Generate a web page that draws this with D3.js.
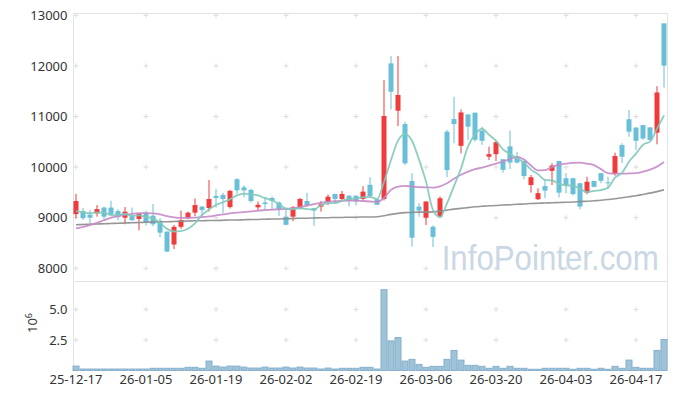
<!DOCTYPE html>
<html>
<head>
<meta charset="utf-8">
<script src="https://cdn.jsdelivr.net/npm/d3@7"></script>
<style>
  body { margin: 0; background: #fff; }
  text { font-family: "Noto Sans", "Open Sans", sans-serif; }
</style>
</head>
<body>
<div class="vis-candle"></div>
<script>
const dates = [
  "25-12-17","25-12-18","25-12-19","25-12-22","25-12-23","25-12-24","25-12-26","25-12-29","25-12-30","26-01-02",
  "26-01-05","26-01-06","26-01-07","26-01-08","26-01-09","26-01-12","26-01-13","26-01-14","26-01-15","26-01-16",
  "26-01-19","26-01-20","26-01-21","26-01-22","26-01-23","26-01-26","26-01-27","26-01-28","26-01-29","26-01-30",
  "26-02-02","26-02-03","26-02-04","26-02-05","26-02-06","26-02-09","26-02-10","26-02-11","26-02-12","26-02-13",
  "26-02-19","26-02-20","26-02-23","26-02-24","26-02-25","26-02-26","26-02-27","26-03-03","26-03-04","26-03-05",
  "26-03-06","26-03-09","26-03-10","26-03-11","26-03-12","26-03-13","26-03-16","26-03-17","26-03-18","26-03-19",
  "26-03-20","26-03-23","26-03-24","26-03-25","26-03-26","26-03-27","26-03-30","26-03-31","26-04-01","26-04-02",
  "26-04-03","26-04-06","26-04-07","26-04-08","26-04-09","26-04-10","26-04-13","26-04-14","26-04-15","26-04-16",
  "26-04-17","26-04-20","26-04-21","26-04-22","26-04-23"
];

const open = [
  9070,9130,9060,9085,9200,9200,9130,9000,9030,8975,
  9100,9040,8940,8725,8470,8820,8990,9100,9220,9190,
  9430,9450,9210,9760,9600,9550,9205,9300,9390,9300,
  9020,9020,9185,9330,9190,9220,9305,9470,9370,9435,
  9435,9370,9650,9365,9370,12050,11115,10850,9725,9220,
  9000,8820,9020,10700,10950,10420,11040,11075,10720,10205,
  10255,10155,10410,10210,10120,9645,9365,9625,9925,10120,
  9780,9780,9680,9495,9725,9880,9700,9865,10435,10945,
  10780,10830,10785,10680,12840
];
const high = [
  9470,9190,9150,9250,9220,9335,9170,9210,9200,9090,
  9140,9270,8990,8730,8860,9140,9120,9380,9225,9745,
  9570,9490,9550,9780,9640,9570,9320,9415,9420,9320,
  9200,9230,9390,9490,9195,9330,9460,9470,9530,9440,
  9440,9625,9800,9370,11720,12195,12195,10900,9880,9290,
  9320,8850,9420,10735,11390,11140,11050,11080,10800,10405,
  10530,10160,10720,10300,10125,9845,9580,9745,10075,10125,
  9880,9790,9690,9810,9730,9885,9810,10285,10470,11130,
  10790,10835,10790,11600,12840
];
const low = [
  8990,8955,8870,9020,8955,9040,8950,8870,8940,8750,
  8840,8830,8615,8320,8380,8780,8970,9030,9010,9120,
  9200,9090,9180,9470,9400,9300,9140,9150,9150,9030,
  8850,8930,9170,9220,8840,9120,9250,9270,9320,9220,
  9240,9350,9385,9250,9340,11140,10810,10040,8430,9020,
  8855,8420,8990,9800,10470,10270,10540,10500,10440,10140,
  10120,9890,9960,10075,9760,9495,9350,9385,9645,9400,
  9485,9440,9165,9460,9600,9680,9570,9830,10080,10600,
  10340,10540,10520,10450,11570
];
const close = [
  9330,8990,9000,9170,9020,9070,9010,9120,8950,9080,
  8910,8870,8705,8330,8820,8950,9100,9250,9150,9370,
  9390,9370,9530,9540,9540,9330,9255,9270,9330,9170,
  8860,9205,9370,9250,9140,9265,9415,9370,9470,9330,
  9320,9515,9430,9255,11010,11490,11425,10075,8605,9140,
  9320,8620,9385,9940,10850,11080,10800,10540,10520,10255,
  10490,9945,10090,10090,9825,9800,9485,9535,10030,9495,
  9645,9465,9220,9710,9610,9730,9680,10220,10205,10700,
  10520,10565,10535,11475,12005
];
// volume in millions of shares
const volume = [
  0.36,0.12,0.12,0.12,0.12,0.12,0.12,0.12,0.12,0.12,
  0.12,0.18,0.18,0.18,0.18,0.18,0.26,0.26,0.18,0.77,
  0.36,0.28,0.36,0.36,0.28,0.2,0.2,0.28,0.2,0.2,
  0.28,0.2,0.28,0.2,0.2,0.12,0.2,0.12,0.18,0.18,
  0.18,0.26,0.26,0.12,6.6,2.42,2.69,0.77,0.91,0.5,
  0.26,0.34,0.34,0.91,1.64,0.85,0.42,0.42,0.34,0.18,
  0.34,0.18,0.34,0.18,0.18,0.1,0.1,0.18,0.18,0.18,
  0.18,0.1,0.18,0.18,0.1,0.18,0.1,0.34,0.18,0.85,
  0.26,0.18,0.18,1.64,2.53
];
const ma5 = [
  9130,9110,9090,9100,9102,9050,9054,9078,9034,9046,
  9014,8986,8903,8779,8727,8735,8781,8890,9054,9164,
  9252,9306,9362,9440,9474,9462,9439,9387,9345,9271,
  9177,9167,9187,9171,9165,9246,9288,9288,9332,9370,
  9381,9401,9413,9370,9706,10140,10522,10651,10521,10147,
  9713,9152,9014,9281,9623,9975,10411,10642,10758,10639,
  10521,10350,10260,10174,10088,9950,9858,9747,9735,9669,
  9638,9634,9571,9507,9530,9547,9590,9790,9889,10107,
  10265,10442,10505,10759,11020
];
const ma20 = [
  8790,8820,8855,8900,8950,9000,9030,9055,9075,9090,
  9090,9085,9065,9030,9005,8995,8995,9000,9010,9025,
  9045,9065,9085,9100,9110,9125,9140,9150,9160,9165,
  9175,9190,9210,9240,9270,9295,9315,9325,9335,9340,
  9340,9330,9320,9310,9390,9550,9615,9630,9615,9605,
  9600,9595,9620,9680,9770,9850,9910,9960,9990,10030,
  10070,10110,10160,10200,10150,10030,9935,9940,10000,10050,
  10070,10085,10090,10070,10040,9960,9880,9870,9870,9875,
  9880,9910,9950,10010,10100
];
const ma60 = [
  8860,8865,8870,8875,8880,8885,8890,8895,8900,8905,
  8910,8915,8920,8920,8925,8930,8935,8940,8940,8945,
  8945,8950,8955,8955,8960,8965,8965,8970,8975,8975,
  8980,8985,8990,8990,8995,9000,9000,9005,9005,9010,
  9010,9015,9015,9020,9040,9065,9085,9100,9105,9110,
  9110,9115,9130,9150,9170,9185,9200,9215,9225,9235,
  9240,9250,9255,9265,9270,9280,9285,9290,9295,9300,
  9305,9310,9320,9325,9335,9345,9360,9375,9395,9415,
  9435,9460,9485,9515,9550
];
const priceTicks = [8000, 9000, 10000, 11000, 12000, 13000];
const volTicks = [2.5, 5.0];
const dateTicks = [0, 10, 20, 30, 40, 50, 60, 70, 80];

const width = 677, height = 399;
const plotLeft = 73.5, plotRight = 667.5, plotTop = 13.5, priceBottom = 281.5, volBottom = 370.5;

const svg = d3.select(".vis-candle").append("svg")
  .attr("width", width).attr("height", height);

const x = d3.scaleBand().domain(d3.range(dates.length)).range([72.5, 667.5]).padding(0);
const cx = i => x(i) + x.bandwidth() / 2;
const y = d3.scaleLinear().domain([8000, 13000]).range([268.3, 15.3]);
const yv = d3.scaleLinear().domain([0, 5]).range([370.5, 309.3]);

// grid crosses
const cross = (g, xs, ys) => {
  xs.forEach(px => ys.forEach(py => {
    g.append("line").attr("x1", px - 2.5).attr("x2", px + 2.5).attr("y1", py).attr("y2", py);
    g.append("line").attr("x1", px).attr("x2", px).attr("y1", py - 2.5).attr("y2", py + 2.5);
  }));
};
const grid = svg.append("g").attr("stroke", "#dcdcdc").attr("stroke-width", 1);
cross(grid, dateTicks.map(cx), priceTicks.map(y));
cross(grid, dateTicks.map(cx), volTicks.map(yv));

// watermark
svg.append("text")
  .attr("x", 441.7).attr("y", 270)
  .attr("textLength", 217).attr("lengthAdjust", "spacingAndGlyphs")
  .style("font-family", "'Liberation Sans', Arial, sans-serif")
  .style("font-size", "35px")
  .attr("fill", "#c9d8e4")
  .text("InfoPointer.com");

// frame
const frame = svg.append("g").attr("stroke", "#e3e3e3").attr("stroke-width", 1).attr("fill", "none");
frame.append("path").attr("d", `M${plotLeft},${volBottom}V${plotTop}H${plotRight}V${volBottom}`);
frame.append("line").attr("x1", plotLeft).attr("x2", plotRight).attr("y1", priceBottom).attr("y2", priceBottom);

// volume bars
svg.append("g").selectAll("rect").data(volume).join("rect")
  .attr("x", (d, i) => x(i) + 0.5)
  .attr("width", x.bandwidth() - 1)
  .attr("y", d => yv(d))
  .attr("height", d => yv(0) - yv(d))
  .attr("fill", "#9ec2d6")
  .attr("stroke", "#86b0cd")
  .attr("stroke-width", 1);

// candles
const upColor = "#ef3b3b", downColor = "#69bfd7";
const candles = svg.append("g").selectAll("g").data(dates).join("g")
  .attr("fill", (d, i) => close[i] >= open[i] ? upColor : downColor)
  .attr("stroke", (d, i) => close[i] >= open[i] ? upColor : downColor);
candles.append("line")
  .attr("x1", (d, i) => cx(i)).attr("x2", (d, i) => cx(i))
  .attr("y1", (d, i) => y(high[i])).attr("y2", (d, i) => y(low[i]))
  .attr("stroke-width", 1);
candles.append("rect")
  .attr("x", (d, i) => cx(i) - 2.5)
  .attr("width", 5)
  .attr("y", (d, i) => y(Math.max(open[i], close[i])))
  .attr("height", (d, i) => Math.max(1, Math.abs(y(open[i]) - y(close[i]))))
  .attr("stroke", "none");

// moving averages
const line = d3.line().x((d, i) => cx(i)).y(d => y(d)).curve(d3.curveMonotoneX);
[[ma60, "#8c8c8c", 1.6], [ma20, "#c78ac8", 1.8], [ma5, "#82c9ba", 1.8]].forEach(([s, c, w]) => {
  svg.append("path").datum(s)
    .attr("fill", "none").attr("stroke", c).attr("stroke-width", w)
    .attr("stroke-opacity", 0.9).attr("d", line);
});

// axes
const styleAxis = g => {
  g.select(".domain").remove();
  g.selectAll("text").attr("fill", "#333").style("font-size", "13px");
};
svg.append("g").attr("transform", `translate(${plotLeft},0)`)
  .call(d3.axisLeft(y).tickValues(priceTicks).tickSize(0).tickPadding(6).tickFormat(d3.format("d")))
  .call(styleAxis);
svg.append("g").attr("transform", `translate(${plotLeft},0)`)
  .call(d3.axisLeft(yv).tickValues(volTicks).tickSize(0).tickPadding(6).tickFormat(d3.format(".1f")))
  .call(styleAxis);
svg.append("g").attr("transform", `translate(0,${volBottom - 0.5})`)
  .call(d3.axisBottom(x).tickValues(dateTicks).tickSize(0).tickPadding(5).tickFormat(i => dates[i]))
  .call(styleAxis);

// volume unit label
const unit = svg.append("text")
  .attr("transform", "translate(37,323) rotate(-90)")
  .attr("text-anchor", "middle")
  .attr("fill", "#333")
  .style("font-size", "13px");
unit.append("tspan").text("10");
unit.append("tspan").attr("dy", -5).style("font-size", "9px").text("6");
</script>
</body>
</html>
